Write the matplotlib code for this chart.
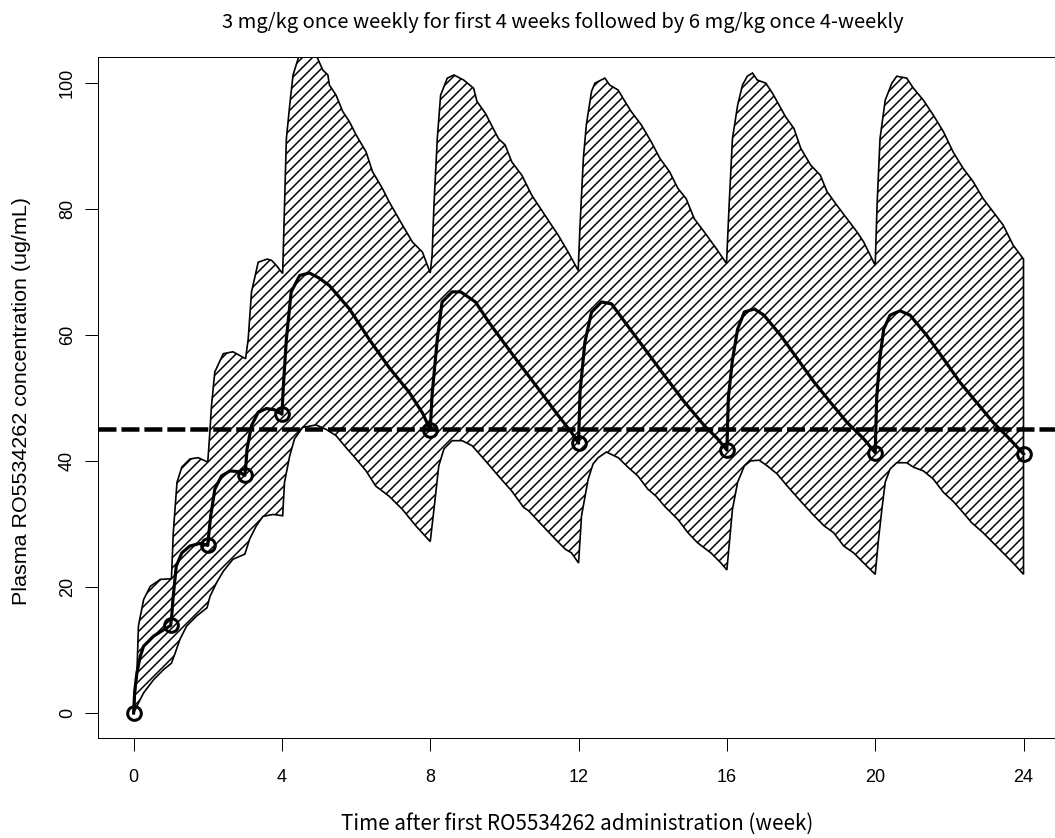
import numpy as np
import matplotlib
matplotlib.use("Agg")
import matplotlib.pyplot as plt

# median profile (week, ug/mL)
med_week = [0, 0.03, 0.09, 0.18, 0.27, 0.54, 0.81, 1.0, 1.03, 1.06, 1.15, 1.3, 1.52, 1.79, 2.0,
            2.03, 2.08, 2.19, 2.37, 2.6, 2.82, 3.0, 3.03, 3.06, 3.18, 3.36, 3.58, 3.8, 4.0,
            4.04, 4.12, 4.25, 4.48, 4.74, 5.0, 5.28, 5.82, 6.35, 6.89, 7.43, 7.8, 8.0,
            8.05, 8.19, 8.32, 8.59, 8.82, 9.22, 9.58, 9.84, 10.38, 10.92, 11.45, 11.81, 12.0,
            12.04, 12.17, 12.35, 12.62, 12.89, 13.25, 13.78, 14.32, 14.86, 15.39, 15.75, 16.0,
            16.04, 16.15, 16.29, 16.47, 16.74, 17.0, 17.45, 17.9, 18.35, 18.79, 19.24, 19.69, 20.0,
            20.04, 20.12, 20.23, 20.4, 20.67, 20.94, 21.39, 21.84, 22.28, 22.73, 23.18, 23.62, 24.0]
med_conc = [0, 3.5, 6.4, 9.0, 10.6, 12.2, 13.2, 13.9, 15.5, 18.0, 23.3, 25.4, 26.5, 26.9, 26.6,
            28.5, 31.3, 35.5, 37.6, 38.4, 38.3, 37.7, 39.5, 41.9, 45.6, 47.7, 48.3, 48.1, 47.4,
            52.0, 59.3, 66.8, 69.4, 69.8, 69.0, 67.8, 64.1, 59.3, 54.8, 50.9, 47.5, 44.9,
            50.5, 59.3, 65.2, 66.8, 66.8, 65.2, 62.0, 59.9, 55.6, 51.4, 47.2, 44.5, 42.8,
            50.9, 58.8, 63.6, 65.2, 64.9, 62.0, 57.8, 53.5, 49.3, 45.6, 43.5, 41.7,
            50.0, 56.0, 60.9, 63.6, 64.1, 63.1, 59.9, 56.2, 52.5, 49.3, 46.1, 43.5, 41.3,
            50.0, 56.0, 60.9, 63.1, 63.8, 63.1, 59.9, 56.2, 52.5, 49.3, 46.1, 43.5, 41.1]

# troughs at dosing times
dose_week = [0, 1, 2, 3, 4, 8, 12, 16, 20, 24]
dose_conc = [0, 13.9, 26.6, 37.7, 47.4, 44.9, 42.8, 41.7, 41.3, 41.1]

# upper limit of the prediction interval
up_week = [0, 0.09, 0.13, 0.27, 0.45, 0.72, 1.02, 1.07, 1.17, 1.3, 1.52, 1.74, 2.0,
           2.05, 2.1, 2.19, 2.42, 2.68, 3.02, 3.09, 3.18, 3.36, 3.6, 3.72, 3.85, 4.02,
           4.07, 4.12, 4.21, 4.3, 4.48, 4.7, 4.95, 5.1, 5.24, 5.28, 5.46, 5.64, 5.82, 6.0,
           6.27, 6.44, 6.71, 6.89, 7.25, 7.52, 7.79, 8.0,
           8.05, 8.1, 8.19, 8.28, 8.46, 8.64, 8.9, 9.17, 9.26, 9.49, 9.84, 10.02, 10.2,
           10.47, 10.74, 11.1, 11.45, 11.72, 11.99,
           12.04, 12.13, 12.21, 12.35, 12.44, 12.71, 12.84, 13.07, 13.25, 13.42, 13.69, 13.96,
           14.19, 14.45, 14.68, 14.9, 15.12, 15.39, 15.71, 15.99,
           16.06, 16.15, 16.29, 16.42, 16.55, 16.69, 16.82, 17.05, 17.23, 17.41, 17.58, 17.81,
           17.99, 18.26, 18.52, 18.7, 18.97, 19.24, 19.51, 19.69, 20.0,
           20.05, 20.13, 20.27, 20.45, 20.58, 20.85, 21.03, 21.3, 21.57, 21.84, 22.1, 22.37,
           22.64, 22.91, 23.18, 23.45, 23.72, 24.0]
up_conc = [0, 6.4, 13.8, 18.0, 20.1, 21.2, 21.3, 28.6, 36.6, 39.0, 40.3, 40.5, 39.8,
           44.0, 48.7, 54.1, 57.0, 57.3, 56.2, 59.3, 66.8, 71.5, 72.0, 71.8, 71.0, 69.7,
           80.5, 91.1, 96.4, 101.2, 104.6, 106.0, 104.0, 102.0, 101.2, 99.6, 98.0, 95.4, 93.8, 91.7,
           89.0, 85.9, 83.2, 81.1, 77.4, 74.7, 73.1, 69.8,
           72.6, 80.5, 91.1, 98.0, 100.7, 101.2, 100.4, 99.1, 97.0, 95.1, 91.1, 90.1, 87.4,
           85.3, 82.1, 78.9, 75.8, 73.1, 70.2,
           77.4, 88.0, 93.3, 98.6, 99.9, 100.7, 99.6, 98.8, 97.0, 95.4, 93.3, 90.6,
           88.0, 85.9, 83.2, 81.6, 78.4, 76.3, 73.7, 71.3,
           80.5, 91.1, 96.4, 99.6, 101.0, 101.5, 100.4, 99.9, 98.3, 96.4, 94.6, 92.7,
           89.6, 86.9, 85.3, 82.7, 80.5, 78.4, 76.3, 74.7, 71.0,
           80.5, 91.1, 97.2, 99.9, 101.0, 100.7, 99.1, 97.2, 94.8, 92.2, 89.0, 86.4,
           84.3, 81.6, 79.5, 77.4, 74.2, 72.0]

# lower limit of the prediction interval
lo_week = [0, 0.13, 0.27, 0.54, 0.81, 1.02, 1.12, 1.25, 1.43, 1.7, 1.98, 2.06, 2.24, 2.42,
           2.68, 3.0, 3.13, 3.31, 3.49, 3.76, 4.02, 4.07, 4.21, 4.34, 4.56, 4.92, 5.19, 5.46,
           5.73, 6.0, 6.27, 6.53, 6.89, 7.25, 7.61, 8.0,
           8.1, 8.23, 8.37, 8.59, 8.86, 9.13, 9.49, 9.84, 10.2, 10.52, 10.65, 11.0, 11.37,
           11.64, 11.81, 12.0,
           12.08, 12.26, 12.39, 12.53, 12.75, 13.07, 13.33, 13.6, 13.87, 14.09, 14.32, 14.68,
           14.95, 15.21, 15.57, 15.84, 16.0,
           16.15, 16.29, 16.47, 16.64, 16.87, 17.09, 17.36, 17.63, 17.99, 18.35, 18.62, 18.88,
           19.15, 19.42, 19.69, 20.0,
           20.09, 20.18, 20.27, 20.4, 20.58, 20.85, 21.03, 21.3, 21.57, 21.84, 22.1, 22.37,
           22.6, 22.91, 23.18, 23.45, 23.72, 24.0]
lo_conc = [0, 1.6, 3.2, 5.3, 6.9, 7.9, 9.5, 11.7, 13.8, 15.4, 16.7, 18.5, 20.7, 22.5,
           24.4, 25.2, 27.6, 29.7, 31.2, 31.5, 31.3, 36.6, 40.8, 43.5, 45.3, 45.7, 45.0, 44.0,
           42.1, 40.3, 38.4, 36.0, 34.4, 32.3, 29.7, 27.2,
           32.3, 39.2, 41.9, 43.2, 43.2, 42.4, 40.0, 37.6, 35.2, 32.6, 32.1, 29.9, 27.6,
           26.0, 25.4, 23.8,
           31.3, 37.1, 39.5, 40.5, 41.4, 40.5, 39.0, 37.6, 35.5, 34.4, 32.8, 30.7,
           28.6, 27.0, 25.4, 23.8, 22.7,
           32.3, 36.6, 39.2, 40.0, 40.1, 39.2, 37.9, 36.0, 33.6, 31.3, 29.7, 28.6,
           26.5, 25.4, 23.8, 22.0,
           27.6, 32.3, 36.6, 38.7, 39.7, 39.7, 39.0, 38.4, 37.1, 35.0, 33.6, 31.8,
           30.2, 28.6, 27.0, 25.4, 23.8, 22.0]

target = 45
x_ticks = [0, 4, 8, 12, 16, 20, 24]
y_ticks = [0, 20, 40, 60, 80, 100]

title_txt = "3 mg/kg once weekly for first 4 weeks followed by 6 mg/kg once 4-weekly"
xlab = "Time after first RO5534262 administration (week)"
ylab = "Plasma RO5534262 concentration (ug/mL)"

plt.rcParams['hatch.linewidth'] = 0.9
plt.rcParams['hatch.color'] = 'black'

DPI = 120
fig = plt.figure(figsize=(1055 / DPI, 838 / DPI), dpi=DPI)
ax = fig.add_axes([0.0929, 0.119, 0.911, 0.8126])

# shaded interval: upper edge forward, lower edge back
poly_x = list(up_week) + list(lo_week[::-1])
poly_y = list(up_conc) + list(lo_conc[::-1])
ax.fill(poly_x, poly_y, facecolor='none', edgecolor='black', hatch='////', linewidth=1.0)

ax.plot(med_week, med_conc, color='black', linewidth=1.9, solid_joinstyle='round')
ax.plot(dose_week, dose_conc, linestyle='none', marker='o', markersize=8.2,
        markerfacecolor='none', markeredgecolor='black', markeredgewidth=1.8)

ax.axhline(target, color='black', linewidth=2.7, dashes=(4.0, 1.1))

ax.set_xlim(-0.96, 24.96)
ax.set_ylim(-4, 104)
ax.set_xticks(x_ticks)
ax.set_yticks(y_ticks)
ax.tick_params(length=7.8, width=0.6, labelsize=10.8)
ax.tick_params(axis='x', pad=10.5)
ax.tick_params(axis='y', pad=5.5)
for lab in ax.get_xticklabels() + ax.get_yticklabels():
    lab.set_family('Liberation Sans')
for lab in ax.get_yticklabels():
    lab.set_rotation(90)
    lab.set_va('center')

for s in ax.spines.values():
    s.set_linewidth(0.6)
ax.spines['right'].set_visible(False)

ax.set_title(title_txt, family='Noto Sans CJK JP', fontsize=12.1, pad=17.5)
ax.title.set_x(0.484)
ax.set_xlabel(xlab, family='Noto Sans CJK JP', fontsize=12.4)
ax.xaxis.set_label_coords(0.498, -0.109)
ax.set_ylabel(ylab, family='Liberation Sans', fontsize=12.9)
ax.yaxis.set_label_coords(-0.0695, 0.495)

fig.savefig('out.png', dpi=DPI)
